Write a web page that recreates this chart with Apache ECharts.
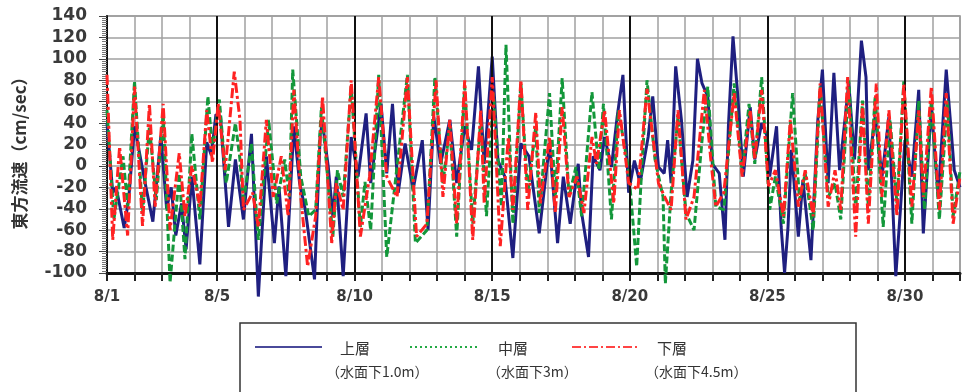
<!DOCTYPE html>
<html>
<head>
<meta charset="utf-8">
<script src="https://cdn.jsdelivr.net/npm/echarts@6/dist/echarts.min.js"></script>
<style>html,body{margin:0;padding:0;background:#fff;}#c{width:963px;height:392px;}</style>
</head>
<body>
<div id="c"></div>
<script>
// time in hours from 8/1 0:00
const upperHours = [0,5,8,15,19,24,34,40,47,52,56,60,65,69,74,81,87,91,95,99,101,106,112,119,126,132,139,146,150,156,163,168,173,181,186,188,193,197,200,206,213,219,226,230,239,244,249,254,260,267,275,280,285,291,299,305,312,318,324,329,336,341,347,354,361,368,377,386,393,398,404,411,414,420,424,430,434,440,445,450,455,460,465,472,476,481,486,489,492,496,501,506,511,515,519,524,528,534,539,542,546,550,555,561,565,571,576,578,584,588,591,594,597,603,607,614,620,624,629,634,639,647,652,658,662,664,670,676,682,688,692,696,702,708,712,719,725,732,736,739,744];
const upperVals = [40,-25,-20,-58,-30,37,-20,-52,28,-40,-20,-65,-35,-78,-10,-92,22,10,48,46,15,-57,6,-50,30,-122,9,-72,-19,-103,37,-16,-41,-106,30,40,-1,-47,-10,-103,27,-10,49,-16,58,-7,58,-25,21,-22,24,-60,46,2,43,-16,37,15,93,2,102,5,-10,-86,21,9,-63,21,-72,-10,-54,2,-44,-85,9,-4,27,-1,46,85,-25,5,-16,27,65,-1,-7,24,-16,93,43,-29,5,100,77,65,2,-7,-69,37,121,68,-10,55,6,40,27,-10,37,-57,-100,-57,15,-66,-13,-88,43,90,-16,87,-4,77,6,117,83,-4,46,-10,46,-103,-41,24,-10,71,-63,55,-29,90,37,-4,-20];

const middleHours = [0,6,14,18,24,31,37,43,49,55,63,68,74,81,88,92,98,104,112,116,119,126,132,141,148,155,159,162,169,176,182,187,197,201,206,213,221,225,230,237,244,252,262,269,279,286,293,299,305,312,319,326,331,337,344,348,354,361,367,374,377,386,391,397,403,409,414,423,429,433,440,446,455,462,466,471,478,485,487,492,498,505,512,519,524,531,538,547,554,560,565,571,578,583,590,598,604,609,616,622,629,635,640,647,653,659,664,670,677,683,689,695,702,708,713,719,726,733,738,744];
const middleVals = [52,-50,9,-38,79,-44,37,-32,49,-109,-7,-87,30,-50,65,15,62,-16,40,6,-35,21,-69,43,-35,6,-29,90,-10,-47,-41,55,-66,-4,-29,74,-57,-15,-60,85,-85,-10,85,-72,-60,83,-16,37,-66,74,-54,43,-47,68,-38,113,-54,77,-25,37,-44,68,-29,82,-29,-1,-47,69,-4,58,-50,52,-4,-94,-10,80,6,-29,-110,-25,46,-44,-60,24,74,-38,-41,77,-7,58,2,83,-41,-10,-54,68,-32,-7,-60,74,-29,-16,-50,80,-41,61,-38,65,-57,43,-35,79,-54,61,-41,61,-50,61,-47,-5];

const lowerHours = [0,5,11,18,24,31,37,42,49,55,63,68,74,81,87,92,97,103,111,116,119,127,132,139,145,152,158,163,169,175,182,188,196,200,206,213,221,229,237,244,253,262,270,279,287,293,299,305,312,319,326,329,336,343,350,354,361,367,374,378,386,391,397,403,410,416,423,427,434,442,447,455,463,471,481,486,492,498,505,512,521,527,531,538,547,554,561,565,571,577,583,590,596,603,609,616,622,629,635,640,646,653,659,664,671,676,682,689,695,702,708,712,719,726,732,738,744];
const lowerVals = [85,-69,18,-65,74,-56,58,-38,58,-60,12,-47,0,-38,52,3,58,-4,88,43,-41,-25,-57,43,-29,9,-47,71,-29,-94,-47,65,-72,-16,-41,80,-66,-10,83,-10,-29,83,-66,-54,80,-29,43,-54,80,-69,52,-35,83,-75,27,-41,80,-41,50,-35,27,-44,55,-29,-10,-44,27,2,52,-35,52,-16,-22,72,-16,-28,-41,52,-50,-29,71,2,-38,-25,68,-10,52,6,71,-19,-4,-47,43,-38,-4,-47,77,-38,-4,-41,83,-66,58,-54,77,-29,52,-47,77,-38,52,-29,74,-41,68,-54,-10];

const labelDays = [1,5,10,15,20,25,30];
const majorDays = [5,10,15,20,25,30];
const seriesNames = ['上層','中層','下層'];
const depthNames = ['（水面下1.0m）','（水面下3m）','（水面下4.5m）'];
const yTitle = '東方流速（cm/sec）';

const zip = (h, v) => h.map((t, i) => [t, v[i]]);
const C_BLUE = '#1f1f80', C_GREEN = '#13973a', C_RED = '#ff2222';
const FONT = 'DejaVu Sans';
const CJK = '"Noto Sans CJK JP", sans-serif';

const chart = echarts.init(document.getElementById('c'), null, {renderer: 'canvas'});
const option = {
  animation: false,
  backgroundColor: '#fff',
  grid: {left: 107, top: 16, right: -6, bottom: 119, show: true, borderColor: '#8a8a8a', borderWidth: 1.5, containLabel: false},
  xAxis: {
    type: 'value', min: 0, max: 744, interval: 24,
    axisLine: {show: true, onZero: false, lineStyle: {color: '#111', width: 3}},
    axisTick: {show: true, length: 8, lineStyle: {color: '#222', width: 2}},
    axisLabel: {
      margin: 17, color: '#3a3a3a', fontFamily: FONT, fontSize: 15, fontWeight: 'bold',
      formatter: v => { const d = Math.round(v / 24) + 1; return (v % 24 === 0 && labelDays.indexOf(d) >= 0) ? '8/' + d : ''; }
    },
    splitLine: {show: true, lineStyle: {color: '#a0a0a0', width: 1.5}}
  },
  yAxis: {
    type: 'value', min: -100, max: 140, interval: 20,
    axisLine: {show: true, lineStyle: {color: '#111', width: 2}},
    axisTick: {show: true, length: 8, lineStyle: {color: '#444', width: 1}},
    minorTick: {show: true, splitNumber: 10, length: 5, lineStyle: {color: '#777', width: 1}},
    axisLabel: {margin: 20, color: '#3a3a3a', fontFamily: FONT, fontSize: 17, fontWeight: 'bold'},
    splitLine: {show: true, lineStyle: {color: '#a0a0a0', width: 1.5}}
  },
  series: [
    {
      type: 'line', data: [], z: 1, silent: true,
      markLine: {
        silent: true, symbol: 'none', label: {show: false},
        lineStyle: {color: '#111', width: 2, type: 'solid'},
        data: majorDays.map(d => ({xAxis: (d - 1) * 24}))
      }
    },
    {name: seriesNames[0], type: 'line', data: zip(upperHours, upperVals), showSymbol: false, clip: false, z: 3,
     lineStyle: {color: C_BLUE, width: 3}},
    {name: seriesNames[1], type: 'line', data: zip(middleHours, middleVals), showSymbol: false, clip: false, z: 4,
     lineStyle: {color: C_GREEN, width: 3, type: [7, 3]}},
    {name: seriesNames[2], type: 'line', data: zip(lowerHours, lowerVals), showSymbol: false, clip: false, z: 5,
     lineStyle: {color: C_RED, width: 3, type: [10, 3, 3, 3]}}
  ],
  graphic: [
    {type: 'text', x: 20, y: 149, rotation: Math.PI / 2,
     style: {text: yTitle, font: 'bold 17px ' + CJK, fill: '#333', align: 'center', verticalAlign: 'middle'}},
    {type: 'rect', shape: {x: 240, y: 323, width: 616, height: 100},
     style: {fill: 'none', stroke: '#333', lineWidth: 1.5}},
    {type: 'line', shape: {x1: 255, y1: 347, x2: 322, y2: 347}, style: {stroke: '#4a4a9a', lineWidth: 2}},
    {type: 'line', shape: {x1: 410, y1: 347, x2: 480, y2: 347}, style: {stroke: '#22aa44', lineWidth: 2, lineDash: [2, 3]}},
    {type: 'line', shape: {x1: 572, y1: 347, x2: 640, y2: 347}, style: {stroke: '#ff4444', lineWidth: 2, lineDash: [9, 3, 2, 3]}},
    {type: 'text', x: 340, y: 348, style: {text: seriesNames[0], font: '15px ' + CJK, fill: '#333', verticalAlign: 'middle'}},
    {type: 'text', x: 498, y: 348, style: {text: seriesNames[1], font: '15px ' + CJK, fill: '#333', verticalAlign: 'middle'}},
    {type: 'text', x: 657, y: 348, style: {text: seriesNames[2], font: '15px ' + CJK, fill: '#333', verticalAlign: 'middle'}},
    {type: 'text', x: 326, y: 372, style: {text: depthNames[0], font: '14px ' + CJK, fill: '#333', verticalAlign: 'middle'}},
    {type: 'text', x: 487, y: 372, style: {text: depthNames[1], font: '14px ' + CJK, fill: '#333', verticalAlign: 'middle'}},
    {type: 'text', x: 645, y: 372, style: {text: depthNames[2], font: '14px ' + CJK, fill: '#333', verticalAlign: 'middle'}}
  ]
};
chart.setOption(option);
</script>
</body>
</html>
